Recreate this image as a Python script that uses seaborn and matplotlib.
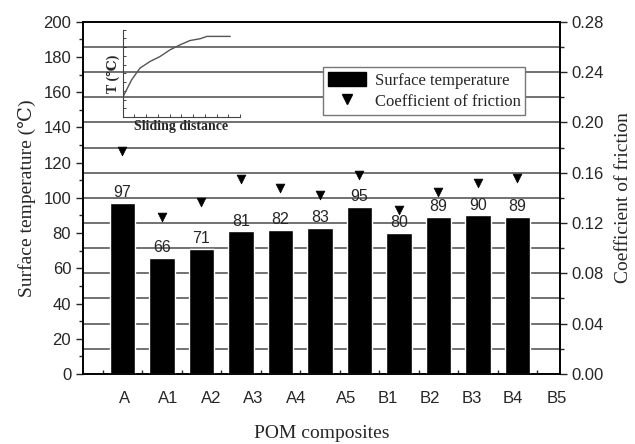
import numpy as np
import pandas as pd
import seaborn as sns
from matplotlib import pyplot as plt
from matplotlib.patches import Patch
from matplotlib.lines import Line2D

# data
samples = ["A", "A1", "A2", "A3", "A4", "A5", "B1", "B2", "B3", "B4", "B5"]
temperature = [97, 66, 71, 81, 82, 83, 95, 80, 89, 90, 89]
friction = [0.177, 0.125, 0.137, 0.155, 0.148, 0.142, 0.158, 0.130, 0.145, 0.152, 0.156]

# inset sketch: temperature rise vs sliding distance (arbitrary units)
inset_dist = [0.05, 0.77, 1.48, 2.34, 3.19, 4.05, 4.9, 5.75, 6.6, 7.18, 9.17]
inset_temp = [2.36, 4.27, 5.61, 6.37, 6.94, 7.71, 8.28, 8.77, 8.97, 9.24, 9.24]

# x label spots (not aligned with the bars in the original)
label_pos = [1.06, 2.15, 3.24, 4.30, 5.39, 6.66, 7.72, 8.78, 9.85, 10.89, 12.0]

df = pd.DataFrame({"pos": np.arange(1, len(temperature) + 1),
                   "temp": temperature, "cof": friction})

sns.set_style("ticks")
plt.rcParams["font.family"] = ["Liberation Sans", "DejaVu Sans"]
serif = ["Liberation Serif", "DejaVu Serif"]

fig = plt.figure(figsize=(6.35, 4.44), dpi=100)
ax = fig.add_axes([0.1307, 0.1577, 0.7512, 0.7934])

sns.barplot(data=df, x="pos", y="temp", native_scale=True, color="black",
            width=0.64, errorbar=None, saturation=1, ax=ax, zorder=3)
ax.bar_label(ax.containers[0], fmt="%d", padding=2, fontsize=11.5)

ax.set_xlim(0, 12.08)
ax.set_ylim(0, 200)
ax.set_yticks(np.arange(0, 201, 20))
ax.set_yticks(np.arange(10, 200, 20), minor=True)
ax.set_xticks(label_pos)
ax.set_xticklabels(samples, fontsize=12)
ax.set_xticks(np.arange(0.5, 12, 1), minor=True)
ax.tick_params(axis="x", which="major", length=0, pad=12)
ax.tick_params(axis="x", which="minor", direction="in", length=3, width=1)
ax.tick_params(axis="y", which="major", direction="out", length=5, width=1, labelsize=12)
ax.tick_params(axis="y", which="minor", direction="out", length=3, width=1)
ax.set_xlabel("POM composites", family=serif, fontsize=14, labelpad=14)
ax.set_ylabel("Surface temperature (\u2103)", family=serif, fontsize=14, labelpad=5)
for s in ax.spines.values():
    s.set_linewidth(1.2)
    s.set_color("black")

# horizontal lines at every 0.02 of the friction scale, behind the bars
for f in np.arange(0.02, 0.28, 0.02):
    ax.axhline(f / 0.28 * 200, color="#666666", lw=1.3, zorder=1)

ax2 = ax.twinx()
sns.scatterplot(data=df, x="pos", y="cof", marker="v", color="black", s=40,
                edgecolor="black", ax=ax2, zorder=4)
ax2.set_ylim(0, 0.28)
ax2.set_yticks(np.arange(0, 0.281, 0.04))
ax2.set_yticklabels([f"{v:.2f}" for v in np.arange(0, 0.281, 0.04)], fontsize=12)
ax2.set_yticks(np.arange(0.02, 0.28, 0.04), minor=True)
ax2.tick_params(axis="y", which="major", direction="out", length=5, width=1)
ax2.tick_params(axis="y", which="minor", direction="out", length=3, width=1)
ax2.set_ylabel("Coefficient of friction", family=serif, fontsize=14, labelpad=8)
ax2.set_xlabel("")
for s in ax2.spines.values():
    s.set_linewidth(1.2)
    s.set_color("black")

handles = [Patch(facecolor="black", edgecolor="black"),
           Line2D([], [], marker="v", color="black", linestyle="none", markersize=7)]
leg = ax2.legend(handles, ["Surface temperature", "Coefficient of friction"],
                 loc="upper left", bbox_to_anchor=(0.503, 0.871), borderaxespad=0,
                 prop={"family": serif, "size": 12}, fancybox=False,
                 edgecolor="#777777", framealpha=1, handlelength=2.3,
                 handleheight=0.9, borderpad=0.3, labelspacing=0.25, handletextpad=0.5)
leg.get_frame().set_linewidth(1.0)

# small inset sketch
ins = fig.add_axes([0.193, 0.736, 0.185, 0.197])
sns.lineplot(x=inset_dist, y=inset_temp, color="#555555", lw=1, ax=ins)
ins.set_xlim(0, 10)
ins.set_ylim(0, 10)
ins.patch.set_alpha(0)
ins.spines["top"].set_visible(False)
ins.spines["right"].set_visible(False)
ins.spines["left"].set_color("#444444")
ins.spines["bottom"].set_color("#444444")
ins.set_xticks(np.arange(0, 11, 1))
ins.set_yticks(np.arange(0, 11, 1))
ins.tick_params(direction="in", length=2, width=0.6, labelbottom=False, labelleft=False)
ins.set_xlabel("Sliding distance", family=serif, fontsize=10, fontweight="bold", labelpad=2)
ins.set_ylabel("T (\u2103)", family=serif, fontsize=10, fontweight="bold", labelpad=2)

fig.savefig("out.png", dpi=100)
